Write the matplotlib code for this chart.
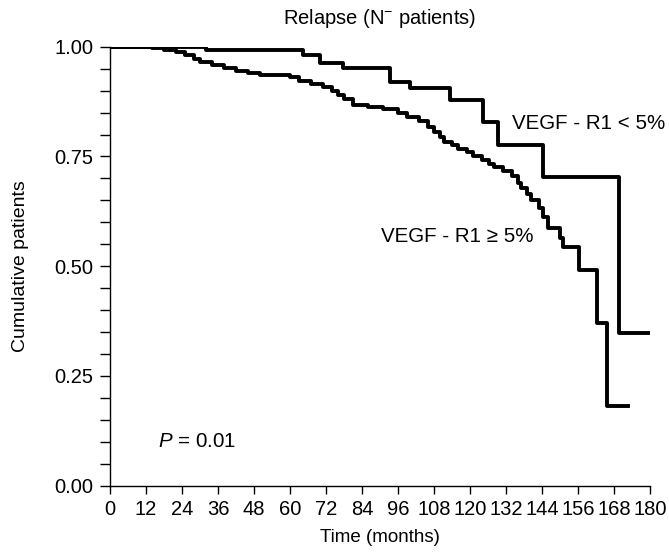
import matplotlib
matplotlib.use("Agg")
import matplotlib.pyplot as plt
from matplotlib.ticker import MultipleLocator

# Kaplan-Meier style step data (time in months, cumulative fraction)
low_time = [0, 32, 64.4, 70, 77.8, 93.3, 100, 113.3, 124.4, 129.4, 144.4, 169.7, 180]
low_surv = [1.0, 0.992, 0.981, 0.962, 0.951, 0.919, 0.905, 0.879, 0.829, 0.776, 0.704, 0.347, 0.347]

high_time = [0, 14, 18, 22, 25, 28, 30, 34, 38, 42, 46, 50, 60, 63, 67, 71, 74, 76, 78, 81,
             86, 91, 96, 99, 103, 106, 108, 110, 111.5, 114, 116, 119, 121, 124, 126.5, 128,
             131, 134, 136, 137, 139, 140.5, 143, 144.5, 146, 150, 151, 156.5, 162.2, 165.6, 172.7]
high_surv = [1.0, 0.997, 0.993, 0.988, 0.981, 0.973, 0.966, 0.958, 0.952, 0.945, 0.940, 0.936,
             0.930, 0.922, 0.915, 0.908, 0.900, 0.890, 0.880, 0.868, 0.863, 0.858, 0.848, 0.840,
             0.830, 0.818, 0.806, 0.795, 0.784, 0.775, 0.767, 0.760, 0.750, 0.742, 0.733, 0.726,
             0.716, 0.705, 0.690, 0.678, 0.665, 0.651, 0.632, 0.613, 0.586, 0.565, 0.544, 0.491,
             0.370, 0.182, 0.182]

xticks = list(range(0, 181, 12))
yticks = [0.0, 0.25, 0.5, 0.75, 1.0]

plt.rcParams['font.family'] = ['Liberation Sans', 'DejaVu Sans']
plt.rcParams['mathtext.fontset'] = 'custom'
plt.rcParams['mathtext.rm'] = 'Liberation Sans'
plt.rcParams['mathtext.it'] = 'Liberation Sans:italic'

fig = plt.figure(figsize=(6.69, 5.54), dpi=100)
ax = fig.add_axes([0.1644, 0.1233, 0.8072, 0.7924])

ax.step(low_time, low_surv, where='post', color='black', lw=2.8)
ax.step(high_time, high_surv, where='post', color='black', lw=2.8)

ax.set_xlim(0, 180)
ax.set_ylim(0, 1)
ax.set_xticks(xticks)
ax.set_yticks(yticks)
ax.set_yticklabels([f"{v:.2f}" for v in yticks])
ax.yaxis.set_minor_locator(MultipleLocator(0.05))

for s in ['top', 'right']:
    ax.spines[s].set_visible(False)
for s in ['left', 'bottom']:
    ax.spines[s].set_linewidth(1.0)

ax.tick_params(axis='y', which='both', direction='out', length=7, width=1.0, labelsize=14.5, pad=5)
ax.tick_params(axis='x', direction='out', length=6, width=1.0, labelsize=14.5, pad=4)

ax.set_xlabel("Time (months)", fontsize=13.5)
ax.set_ylabel("Cumulative patients", fontsize=14)
ax.xaxis.set_label_coords(0.5, -0.098)
ax.yaxis.set_label_coords(-0.15, 0.5)

ax.set_title("Relapse (N$^{-}$ patients)", fontsize=14.5, pad=16)

ax.text(134, 0.826, "VEGF - R1 < 5%", fontsize=14.8, va='center', ha='left')
ax.text(90.3, 0.567, "VEGF - R1 \u2265 5%", fontsize=14.8, va='center', ha='left')
ax.text(16, 0.10, "$P$ = 0.01", fontsize=14.8, va='center', ha='left')

fig.savefig("out.png", dpi=100)
